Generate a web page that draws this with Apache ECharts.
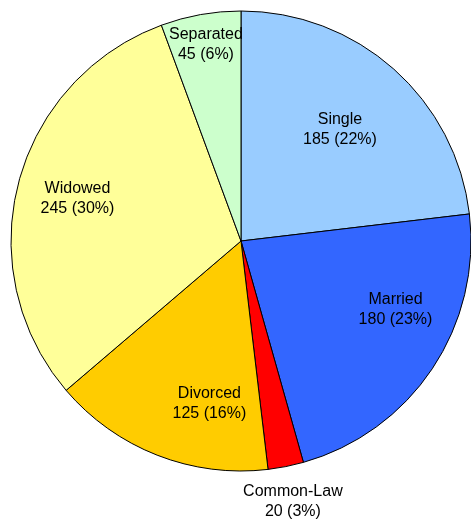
<!DOCTYPE html>
<html><head><meta charset="utf-8">
<script src="https://cdn.jsdelivr.net/npm/echarts@6/dist/echarts.min.js"></script>
<style>html,body{margin:0;padding:0;background:#fff;}#c{width:471px;height:522px;}</style>
</head><body><div id="c"></div>
<script>
const categories = ['Single', 'Married', 'Common-Law', 'Divorced', 'Widowed', 'Separated'];
const values = [185, 180, 20, 125, 245, 45];
const percentLabels = ['22%', '23%', '3%', '16%', '30%', '6%'];
const colors = ['#99CCFF', '#3366FF', '#FF0000', '#FFCC00', '#FFFF99', '#CCFFCC'];

const chart = echarts.init(document.getElementById('c'), null, {renderer: 'canvas'});
const center = [241, 241];
const R = 230;

function makeData(showSet, transparent) {
  return categories.map((name, i) => ({
    name, value: values[i],
    itemStyle: transparent ? {color: 'rgba(0,0,0,0)', borderWidth: 0} : {color: colors[i]},
    label: {show: showSet.includes(name)}
  }));
}
const labelStyle = {
  position: 'inside', color: '#000', fontFamily: 'Liberation Sans, Arial, sans-serif',
  fontSize: 16, lineHeight: 20,
  formatter: p => p.name + '\n' + p.value + ' (' + percentLabels[p.dataIndex] + ')'
};
const base = {type: 'pie', center, startAngle: 90, clockwise: true, animation: false, silent: true, labelLine: {show: false}};
// small label nudges mimicking the original's best-fit placement
const nudges = {Married: [14, -25], Divorced: [30, 5]};

chart.setOption({
  backgroundColor: '#fff',
  series: [
    Object.assign({}, base, {
      radius: [0, R],
      itemStyle: {borderColor: '#000', borderWidth: 1},
      label: {show: false},
      data: makeData([], false)
    }),
    Object.assign({}, base, {
      radius: [112, 180],
      label: labelStyle,
      data: makeData(['Single'], true)
    }),
    Object.assign({}, base, {
      radius: [102, R],
      label: labelStyle,
      labelLayout: p => {
        const n = nudges[categories[p.dataIndex]];
        return n ? {dx: n[0], dy: n[1]} : {};
      },
      data: makeData(['Married', 'Divorced', 'Widowed'], true)
    }),
    Object.assign({}, base, {
      radius: [163, R],
      label: labelStyle,
      data: makeData(['Separated'], true)
    }),
    Object.assign({}, base, {
      radius: [243, 283],
      label: labelStyle,
      data: makeData(['Common-Law'], true)
    })
  ]
});
</script></body></html>
